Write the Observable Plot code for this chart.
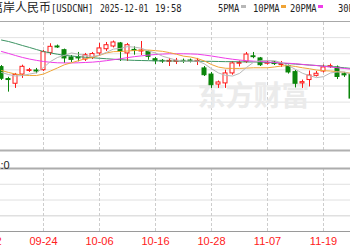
<!DOCTYPE html>
<html><head><meta charset="utf-8">
<script src="https://cdn.jsdelivr.net/npm/d3@7"></script>
<script src="https://cdn.jsdelivr.net/npm/@observablehq/plot@0.6"></script>
<style>
html,body{margin:0;padding:0;background:#fff;overflow:hidden;}
#wrap{position:relative;width:350px;height:250px;overflow:hidden;background:#fff;}
#head{position:absolute;left:0;top:0;width:350px;height:20px;color:#222;white-space:nowrap;}
#head span{position:absolute;display:block;}
.cjk{font-family:"Noto Sans CJK SC",sans-serif;font-size:12px;line-height:12px;top:1px;}
.lat{font-family:"DejaVu Sans Mono",monospace;font-size:11px;line-height:11px;top:3px;transform-origin:0 0;}
.mk{position:absolute;top:5px;width:5px;height:3px;}
#p1{position:absolute;left:0;top:20px;width:350px;height:132px;overflow:hidden;}
#p2{position:absolute;left:0;top:152px;width:350px;height:98px;overflow:hidden;}
</style>
</head><body>
<div id="wrap">
  <div id="head">
    <span class="cjk" style="left:-9px">离岸人民币</span>
    <span class="lat" style="left:51px;transform:scaleX(0.8)">[USDCNH]</span>
    <span class="lat" style="left:100px;transform:scaleX(0.73)">2025-12-01</span>
    <span class="lat" style="left:155px;transform:scaleX(0.8)">19:58</span>
  </div>
  <div id="p1"></div>
  <div id="p2"></div>
</div>
<script>
// trading days (x categories)
const days = ["09-12","09-15","09-16","09-17","09-18","09-19","09-22","09-23","09-24","09-25","09-26","09-29","09-30",
  "10-01","10-02","10-03","10-06","10-07","10-08","10-09","10-10","10-13","10-14","10-15","10-16","10-17","10-20","10-21","10-22","10-23","10-24","10-27","10-28","10-29","10-30","10-31",
  "11-03","11-04","11-05","11-06","11-07","11-10","11-11","11-12","11-13","11-14","11-17","11-18","11-19","11-20","11-21","11-24","11-25","11-26","11-27","11-28","12-01"];
const tickDays = ["09-12","09-24","10-06","10-16","10-28","11-07","11-19"];
const candleStart = "09-16";

// OHLC from 09-16 to 11-25
const open = [7.1317,7.1243,7.1214,7.1271,7.1293,7.1296,7.1298,7.1405,7.1445,7.1422,
  7.1377,7.1377,7.1364,7.1374,7.1402,7.1428,7.1445,7.1464,7.1402,7.1424,
  7.1414,7.1412,7.1366,7.1356,7.1350,7.1350,7.1356,7.1358,7.1350,7.1309,
  7.1271,7.1209,7.1216,7.1278,7.1338,7.1350,7.1384,7.1371,7.1338,7.1346,
  7.1330,7.1324,7.1286,7.1216,7.1237,7.1263,7.1290,7.1317,7.1315,7.1273,
  7.1271];
const high = [7.1327,7.1254,7.1278,7.1329,7.1309,7.1309,7.1420,7.1462,7.1454,7.1429,
  7.1389,7.1408,7.1402,7.1408,7.1464,7.1470,7.1479,7.1470,7.1464,7.1443,
  7.1476,7.1417,7.1377,7.1364,7.1371,7.1371,7.1367,7.1367,7.1371,7.1321,
  7.1284,7.1231,7.1298,7.1352,7.1355,7.1408,7.1408,7.1377,7.1355,7.1352,
  7.1352,7.1330,7.1296,7.1237,7.1293,7.1290,7.1330,7.1336,7.1324,7.1284,
  7.1278];
const low = [7.1234,7.1162,7.1185,7.1247,7.1284,7.1276,7.1290,7.1389,7.1433,7.1340,
  7.1346,7.1350,7.1352,7.1364,7.1383,7.1414,7.1436,7.1352,7.1352,7.1391,
  7.1389,7.1360,7.1333,7.1340,7.1321,7.1333,7.1340,7.1343,7.1327,7.1259,
  7.1185,7.1185,7.1185,7.1267,7.1318,7.1340,7.1369,7.1321,7.1330,7.1327,
  7.1315,7.1274,7.1188,7.1185,7.1194,7.1256,7.1281,7.1309,7.1240,7.1253,
  7.1104];
const close = [7.1245,7.1237,7.1269,7.1319,7.1298,7.1290,7.1410,7.1443,7.1439,7.1371,
  7.1362,7.1371,7.1391,7.1398,7.1433,7.1453,7.1470,7.1412,7.1453,7.1418,
  7.1420,7.1381,7.1354,7.1352,7.1356,7.1356,7.1352,7.1353,7.1356,7.1267,
  7.1205,7.1222,7.1278,7.1340,7.1343,7.1395,7.1379,7.1329,7.1344,7.1336,
  7.1336,7.1284,7.1214,7.1224,7.1265,7.1276,7.1315,7.1323,7.1256,7.1266,
  7.1122];

// moving averages, same days as the candles
const ma5 = [7.1284,7.1271,7.1262,7.1265,7.1274,7.1282,7.1315,7.1352,7.1377,7.1390,
  7.1405,7.1397,7.1389,7.1383,7.1391,7.1409,7.1429,7.1433,7.1444,7.1441,
  7.1434,7.1417,7.1405,7.1385,7.1372,7.1360,7.1354,7.1354,7.1355,7.1337,
  7.1307,7.1281,7.1266,7.1262,7.1278,7.1315,7.1347,7.1357,7.1358,7.1357,
  7.1345,7.1326,7.1303,7.1279,7.1264,7.1252,7.1258,7.1281,7.1287,7.1287,
  7.1271];
const ma10 = [7.1296,7.1284,7.1274,7.1268,7.1265,7.1265,7.1274,7.1293,7.1312,7.1332,
  7.1344,7.1357,7.1369,7.1377,7.1390,7.1405,7.1413,7.1414,7.1417,7.1420,
  7.1422,7.1423,7.1419,7.1415,7.1407,7.1397,7.1385,7.1380,7.1370,7.1355,
  7.1333,7.1317,7.1310,7.1309,7.1309,7.1311,7.1313,7.1313,7.1313,7.1318,
  7.1324,7.1327,7.1321,7.1313,7.1307,7.1299,7.1295,7.1293,7.1289,7.1285,
  7.1278];
const ma20 = [7.1414,7.1402,7.1389,7.1377,7.1367,7.1359,7.1352,7.1347,7.1344,7.1343,
  7.1343,7.1344,7.1346,7.1348,7.1352,7.1357,7.1363,7.1369,7.1376,7.1382,
  7.1387,7.1392,7.1395,7.1398,7.1400,7.1400,7.1400,7.1399,7.1397,7.1392,
  7.1386,7.1379,7.1372,7.1366,7.1361,7.1357,7.1354,7.1352,7.1349,7.1346,
  7.1343,7.1341,7.1338,7.1334,7.1330,7.1327,7.1322,7.1318,7.1313,7.1309,
  7.1304];
const ma30 = [7.1485,7.1476,7.1464,7.1451,7.1439,7.1426,7.1414,7.1405,7.1397,7.1390,
  7.1386,7.1382,7.1378,7.1375,7.1372,7.1369,7.1366,7.1363,7.1361,7.1359,
  7.1358,7.1357,7.1356,7.1356,7.1355,7.1355,7.1354,7.1354,7.1354,7.1353,
  7.1353,7.1352,7.1351,7.1351,7.1350,7.1349,7.1349,7.1348,7.1346,7.1344,
  7.1341,7.1339,7.1336,7.1333,7.1330,7.1327,7.1324,7.1321,7.1317,7.1313,
  7.1309];
const maNames = ["5PMA","10PMA","20PMA","30PMA"];
const priceTicks = [7.08,7.09,7.10,7.11,7.12,7.13,7.14,7.15,7.16];
const volumeTicks = [0,1,2,3,4];
const volumeText = ":0";
const watermark = "东方财富";

// styles
const UP = "#ff1a1a", DOWN = "#0a850a";
const maColors = ["#b8b8b8","#f0a436","#ee3ce8","#3d9463"];
const legendLeft = [218,253,290,338];

// legend
const head = document.getElementById("head");
maNames.forEach((n, k) => {
  const s = document.createElement("span");
  s.className = "lat"; s.textContent = n;
  s.style.left = legendLeft[k] + "px"; s.style.transform = "scaleX(0.8)";
  head.appendChild(s);
  const w = s.getBoundingClientRect().width;
  const m = document.createElement("i");
  m.className = "mk"; m.style.left = Math.round(legendLeft[k] + w + 1.5) + "px";
  m.style.background = maColors[k];
  head.appendChild(m);
});

const base = days.indexOf(candleStart);
const candles = open.map((o, k) => ({i: base + k, o, h: high[k], l: low[k], c: close[k]}));
const col = d => d.c >= d.o ? UP : DOWN;
const tickIdx = tickDays.map(t => days.indexOf(t));
const xs = {domain: [0, days.length - 1], range: [-13, 379]};
const yMin = priceTicks[0], yMax = priceTicks[priceTicks.length - 1];
const maData = [ma5, ma10, ma20, ma30].map(arr => arr.map((v, k) => ({i: base + k, v})));

const p1 = Plot.plot({
  width: 350, height: 132, marginTop: 1, marginBottom: 2, marginLeft: 0, marginRight: 0,
  x: {...xs, axis: null},
  y: {domain: [yMin, yMax], axis: null},
  style: {background: "transparent"},
  marks: [
    Plot.ruleY(priceTicks.slice(1, -1), {stroke: "#e2e2e2"}),
    Plot.ruleX(tickIdx, {y1: yMin, y2: yMax, stroke: "#cdcdcd", strokeDasharray: "3,2"}),
    Plot.text([watermark], {text: d => d, frameAnchor: "top-left", dx: 197, dy: 65, fontSize: 28, fontWeight: 700,
      fill: "#ebebeb", fontFamily: "Noto Sans CJK SC"}),
    Plot.ruleY([yMax], {stroke: "#a8a8a8"}),
    Plot.ruleY([yMin], {stroke: "#b0b0b0", strokeWidth: 2}),
    Plot.ruleX(candles, {x: "i", y1: "l", y2: "h", stroke: col}),
    Plot.rect(candles, {x1: d => d.i - 2/7, x2: d => d.i + 2/7, y1: "o", y2: "c",
      fill: d => d.c >= d.o ? "#fff" : DOWN, stroke: col}),
    ...[3, 2, 1, 0].map(m => Plot.line(maData[m], {x: "i", y: "v", stroke: maColors[m], strokeWidth: 1}))
  ]
});
document.getElementById("p1").appendChild(p1);

const p2 = Plot.plot({
  width: 350, height: 98, marginTop: 16, marginBottom: 19, marginLeft: 0, marginRight: 0,
  x: {...xs},
  y: {domain: [volumeTicks[0], volumeTicks[volumeTicks.length - 1]], axis: null},
  style: {background: "transparent", fontFamily: "Liberation Sans, sans-serif", fontSize: "11px"},
  marks: [
    Plot.ruleY(volumeTicks.slice(1, -1), {stroke: "#e0e0e0", strokeWidth: d => d === 1 ? 1.5 : 1}),
    Plot.ruleX(tickIdx, {y1: volumeTicks[0], y2: volumeTicks[volumeTicks.length - 1], stroke: "#cdcdcd", strokeDasharray: "3,2"}),
    Plot.ruleY([volumeTicks[volumeTicks.length - 1]], {stroke: "#acacac", strokeWidth: 2}),
    Plot.ruleY([volumeTicks[0]], {stroke: "#9a9a9a"}),
    Plot.axisX({ticks: tickIdx, tickFormat: i => days[i], tickSize: 0, tickPadding: 6, color: "#ff2020", label: null}),
    Plot.text([volumeText], {text: d => d, frameAnchor: "top-left", dy: -7.5, textAnchor: "start", fill: "#222"})
  ]
});
document.getElementById("p2").appendChild(p2);
</script>
</body></html>
